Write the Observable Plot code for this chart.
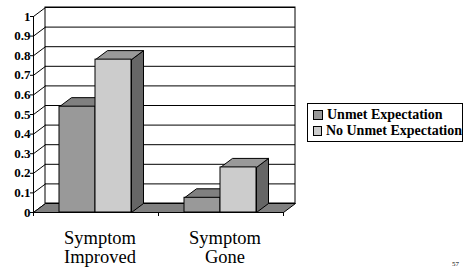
<!DOCTYPE html>
<html>
<head>
<meta charset="utf-8">
<script src="https://cdn.jsdelivr.net/npm/d3@7"></script>
<script src="https://cdn.jsdelivr.net/npm/@observablehq/plot@0.6"></script>
<style>
  html, body { margin: 0; padding: 0; background: #fff; }
  #wrap { position: relative; width: 465px; height: 269px; overflow: hidden; font-family: "Liberation Serif", "Times New Roman", Tinos, "DejaVu Serif", serif; }
  #wrap svg { position: absolute; left: 0; top: 0; }
  #legend { position: absolute; left: 307px; top: 103px; width: 156px; height: 39px; box-sizing: border-box; border: 1px solid #000; background: #fff; font-weight: bold; font-size: 14px; line-height: 16px; padding-top: 3px; padding-left: 5px; }
  .row { display: flex; align-items: center; white-space: nowrap; }
  .sw { width: 8px; height: 8px; border: 1px solid #000; margin-right: 4px; }
  #pg { position: absolute; left: 452px; top: 260px; font-size: 7px; }
</style>
</head>
<body>
<div id="wrap">
  <div id="chart"></div>
  <div id="legend"></div>
  <div id="pg">57</div>
</div>
<script>
// ---- data ----
const categories = ["Symptom\nImproved", "Symptom\nGone"];
const series = ["Unmet Expectation", "No Unmet Expectation"];
const unmetValues = [0.54, 0.075];
const noUnmetValues = [0.78, 0.23];
const yTicks = [0, 0.1, 0.2, 0.3, 0.4, 0.5, 0.6, 0.7, 0.8, 0.9, 1];
const yTickLabels = ["0", "0.1", "0.2", "0.3", "0.4", "0.5", "0.6", "0.7", "0.8", "0.9", "1"];

// ---- styles / layout ----
const fontStack = "'Liberation Serif', 'Times New Roman', Tinos, 'DejaVu Serif', serif";
const frontColors = ["#999999", "#cccccc"];
const topColors = ["#808080", "#999999"];
const sideColors = ["#666666", "#666666"];
const W = 465, H = 269;
const mL = 33, mR = 182, mT = 16, mB = 57;
const DXpx = 12, DYpx = 9;
const xSpan = categories.length;
const dxu = DXpx * xSpan / (W - mL - mR);
const dyu = DYpx / (H - mT - mB);
const barOffset = 0.208, barWidth = 0.288;

const valuesBySeries = [unmetValues, noUnmetValues];
const bars = [];
categories.forEach((c, i) => series.forEach((s, j) => {
  const x1 = i + barOffset + j * barWidth;
  bars.push({cat: i, s: j, v: valuesBySeries[j][i], x1, x2: x1 + barWidth});
}));

const sidePts = [], topPts = [];
bars.forEach((b, k) => {
  const id = k;
  [[b.x2, 0], [b.x2 + dxu, dyu], [b.x2 + dxu, b.v + dyu], [b.x2, b.v], [b.x2, 0]]
    .forEach(([x, y]) => sidePts.push({id, x, y, fill: sideColors[b.s]}));
  [[b.x1, b.v], [b.x2, b.v], [b.x2 + dxu, b.v + dyu], [b.x1 + dxu, b.v + dyu], [b.x1, b.v]]
    .forEach(([x, y]) => topPts.push({id, x, y, fill: topColors[b.s]}));
});
const floorPts = [[0, 0], [xSpan, 0], [xSpan + dxu, dyu], [dxu, dyu], [0, 0]].map(([x, y]) => ({x, y}));

const plot = Plot.plot({
  width: W, height: H,
  marginLeft: mL, marginRight: mR, marginTop: mT, marginBottom: mB,
  x: {domain: [0, xSpan]},
  y: {domain: [0, 1]},
  color: {type: "identity"},
  style: {fontFamily: fontStack, fontSize: "13px", color: "#000", background: "transparent"},
  marks: [
    Plot.rect([0], {x1: () => 0, x2: () => xSpan, y1: () => 0, y2: () => 1, dx: DXpx, dy: -DYpx, fill: "#fff", stroke: "#000", strokeWidth: 1}),
    Plot.ruleY(yTicks, {x1: () => 0, x2: () => xSpan, dx: DXpx, dy: -DYpx, stroke: "#000", strokeWidth: 1}),
    Plot.link(yTicks, {x1: () => 0, y1: d => d, x2: () => dxu, y2: d => d + dyu, stroke: "#000", strokeWidth: 1}),
    Plot.line(floorPts, {x: "x", y: "y", fill: "#808080", stroke: "#000", strokeWidth: 1, curve: "linear"}),
    Plot.line(sidePts, {x: "x", y: "y", z: "id", fill: "fill", stroke: "#000", strokeWidth: 1}),
    Plot.line(topPts, {x: "x", y: "y", z: "id", fill: "fill", stroke: "#000", strokeWidth: 1}),
    Plot.rect(bars, {x1: "x1", x2: "x2", y1: () => 0, y2: "v", fill: d => frontColors[d.s], stroke: "#000", strokeWidth: 1}),
    Plot.ruleX([0], {y1: () => 0, y2: () => 1, stroke: "#000", strokeWidth: 1}),
    Plot.axisY({ticks: yTicks, tickFormat: () => "", tickSize: 3, label: null}),
    Plot.text(yTicks, {x: () => 0, y: d => d, text: (d, i) => yTickLabels[i], textAnchor: "end", dx: -3, fontWeight: "bold", fontSize: 13, fill: "#000"}),
    Plot.axisX({ticks: d3.range(0, xSpan + 1), tickFormat: () => "", tickSize: 4, label: null}),
    Plot.text(categories, {x: (d, i) => i + 0.5, y: () => 0, text: d => d, lineAnchor: "top", dy: 18, dx: 4, fontSize: 18.5, lineHeight: 1.03, fill: "#000"})
  ]
});
document.getElementById("chart").appendChild(plot);

const legend = document.getElementById("legend");
series.forEach((s, j) => {
  const row = document.createElement("div");
  row.className = "row";
  const sw = document.createElement("span");
  sw.className = "sw";
  sw.style.background = frontColors[j];
  const t = document.createElement("span");
  t.textContent = s;
  row.appendChild(sw); row.appendChild(t);
  legend.appendChild(row);
});
</script>
</body>
</html>
